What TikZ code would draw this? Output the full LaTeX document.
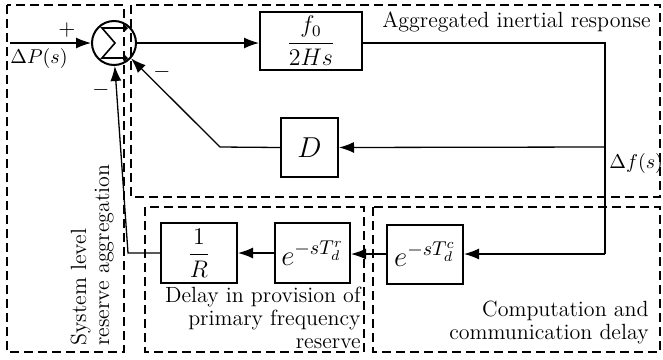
\documentclass[tikz,border=0pt]{standalone}
\usepackage{amsmath}
\usetikzlibrary{arrows.meta}
\begin{document}
\begin{tikzpicture}[x=0.5pt,y=-0.5pt,
  font=\fontsize{11}{11.5}\selectfont,
  blk/.style={draw,line width=1pt,inner sep=0pt},
  grp/.style={draw,line width=1pt,dash pattern=on 4.5pt off 2.5pt},
  conn/.style={line width=0.65pt},
  arr/.style={conn,-{Latex[length=7.5pt,width=5.5pt]}},
  sign/.style={inner sep=0pt,font=\fontsize{11}{11}\selectfont},
  sig/.style={inner sep=0pt,font=\fontsize{10}{10}\selectfont}]
\useasboundingbox (0,0) rectangle (663,359);

% grouping frames
\draw[grp] (7,5) rectangle (124,352);
\draw[grp] (131,5) rectangle (660,197);
\draw[grp] (145,207) rectangle (364,352);
\draw[grp] (373,207) rectangle (660,352);

% summing junction
\node[draw,circle,line width=1pt,minimum size=22pt,inner sep=0pt] (sum) at (114,43) {};
\draw[line width=0.8pt,{Straight Barb[length=1.5pt,width=3pt]}-{Straight Barb[length=1.5pt,width=3pt]}]
  ([xshift=7pt,yshift=7.5pt]sum.center) -- ([xshift=-6pt,yshift=7.5pt]sum.center)
  -- ([xshift=0.5pt]sum.center) -- ([xshift=-6pt,yshift=-7.5pt]sum.center)
  -- ([xshift=7pt,yshift=-7.5pt]sum.center);

% blocks
\node[blk,minimum width=51pt,minimum height=29pt] (G) at (311,41) {\large$\dfrac{f_0}{2Hs}$};
\node[blk,minimum width=28.5pt,minimum height=29.5pt] (D) at (309.5,147.5) {\Large$D$};
\node[blk,minimum width=38pt,minimum height=29.5pt] (Tc) at (425,254) {\Large$e^{-sT_d^c}$};
\node[blk,minimum width=37.5pt,minimum height=30pt] (Tr) at (312.5,253) {\Large$e^{-sT_d^r}$};
\node[blk,minimum width=38pt,minimum height=30pt] (R) at (199,253) {\large$\dfrac{1}{R}$};

% auxiliary points
\coordinate (in) at (10,43);
\coordinate (out) at (605,43);
\coordinate (tap) at (605,147);
\coordinate (low) at (605,254);
\coordinate (dbend) at (220,147);
\coordinate (rbend) at (128,253);

% signal paths
\draw[arr] (in) -- (sum.west);
\draw[arr] (sum.east) -- (G.west |- sum.east);
\draw[conn] (G.east |- out) -- (out) -- (low);
\draw[arr] (tap) -- (D.east);
\draw[arr] (D.west) -- (dbend) -- (sum.-42);
\draw[arr] (low) -- (Tc.east);
\draw[arr] (Tc.west) -- (Tr.east |- Tc.west);
\draw[arr] (Tr.west) -- (R.east);
\draw[arr] (R.west) -- (rbend) -- (sum.-88);

% signs and signal names
\node[sign] (plus) at (67,30) {$+$};
\node[sign] (m1) at (162,72) {$-$};
\node[sign] (m2) at (101,90) {$-$};
\node[sig,anchor=north west] (dP) at (10,48) {$\Delta P(s)$};
\node[sig,anchor=west] (df) at (609,163) {$\Delta f(s)$};

% group captions
\node[anchor=north east,inner sep=0pt] (capA) at (651,11) {Aggregated inertial response};
\node[anchor=south east,align=right,inner sep=0pt] (capB) at (361,349) {Delay in provision of\\primary frequency\\reserve};
\node[anchor=south east,align=right,inner sep=0pt] (capC) at (649,344) {Computation and\\communication delay};
\node[anchor=south west,align=left,inner sep=0pt,rotate=90] (capD) at (114,346) {System level\\reserve aggregation};
\end{tikzpicture}
\end{document}
